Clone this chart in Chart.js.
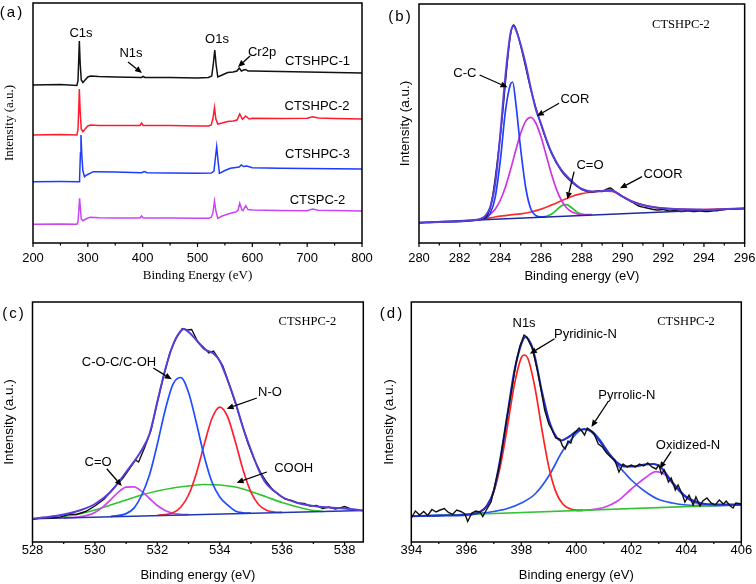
<!DOCTYPE html>
<html><head><meta charset="utf-8">
<script src="https://cdn.jsdelivr.net/npm/chart.js@4/dist/chart.umd.min.js"></script>
<style>
html,body{margin:0;padding:0;background:#fff;}
body{width:756px;height:584px;position:relative;overflow:hidden;}
canvas{position:absolute;}
</style></head><body>
<canvas id="ca" width="378" height="292" style="left:0;top:0"></canvas>
<canvas id="cb" width="378" height="292" style="left:378px;top:0"></canvas>
<canvas id="cc" width="378" height="292" style="left:0;top:292px"></canvas>
<canvas id="cd" width="378" height="292" style="left:378px;top:292px"></canvas>
<script>
// ---------------- (a) survey spectra ----------------
const aTicks = [200, 300, 400, 500, 600, 700, 800];
const aMinor = [250, 350, 450, 550, 650, 750];
const aE1 = [200, 250, 280, 282, 283.5, 284.5, 286, 288, 291, 295, 300, 305, 320, 350, 398, 401, 404, 450, 500, 520, 526, 529, 531.5, 534, 537, 545, 555, 565, 572, 576, 580, 584, 588, 592, 600, 650, 700, 750, 800];
const aI1 = [158, 158.5, 157.5, 162, 185, 202, 180, 163, 160.5, 163, 166, 167, 166.5, 166, 165.5, 166.5, 165.5, 165.5, 165, 165.5, 167, 180, 193, 178, 166, 168, 170.5, 171, 172, 175, 172, 173, 173.5, 172, 172, 171.5, 171, 170.5, 170];
const aE2 = [200, 250, 280, 282, 283.5, 284.5, 286, 288, 291, 295, 300, 305, 320, 350, 395, 398, 401, 450, 500, 520, 525, 528, 531, 533.5, 537, 545, 555, 565, 572, 577, 582, 588, 594, 600, 650, 700, 710, 720, 750, 800];
const aI2 = [108, 108.5, 108, 113, 135, 154, 132, 114, 111.3, 114, 117, 118, 117.5, 117.5, 117.5, 120, 117.5, 117.5, 117, 117, 118, 124, 135.5, 124, 119, 120, 121.5, 122, 123, 129, 123.7, 127, 124, 124.7, 124.5, 124.7, 126.3, 125, 124.5, 124];
const aE3 = [200, 250, 284, 285, 286.5, 287.5, 289, 291, 294, 298, 310, 350, 398, 403, 408, 450, 500, 525, 530, 532, 535, 537.5, 540, 550, 560, 570, 576, 580, 584, 590, 600, 650, 700, 750, 800];
const aI3 = [61.3, 61.5, 61.3, 65, 90, 108, 88, 72, 66.3, 68, 71.3, 71, 70.3, 71.5, 70.3, 70, 69.7, 70, 72, 82, 96.3, 82, 69.7, 72.5, 74.7, 75.5, 76, 78, 76.5, 77, 75.3, 74.8, 74.5, 74.2, 74];
const aE4 = [200, 250, 280, 282, 283.5, 285, 286.5, 288, 291, 295, 300, 305, 320, 350, 395, 398, 401, 450, 500, 520, 525, 528, 531, 533.5, 537, 545, 560, 570, 574, 577, 581, 583, 588, 592, 600, 650, 700, 710, 720, 750, 800];
const aI4 = [18.7, 19, 18.7, 21, 32, 44.7, 34, 24, 22.3, 23.5, 25, 25.7, 25.3, 25, 25, 27, 25, 25, 24.7, 24.7, 25.5, 30, 42, 32, 24.7, 27, 29.7, 31, 33, 39.7, 33, 32.3, 37.3, 33.5, 33, 32.5, 32.3, 34, 32.8, 32.5, 32];
const aNames = ['CTSHPC-1', 'CTSHPC-2', 'CTSHPC-3', 'CTSPC-2'];

// ---------------- (b) C1s ----------------
const bTicks = [280, 282, 284, 286, 288, 290, 292, 294, 296];
const bMinor = [281, 283, 285, 287, 289, 291, 293, 295];
const bBgE = [280, 296];
const bBgI = [20.5, 34.5];
const bEnvE = [280, 281, 282, 282.5, 283, 283.25, 283.5, 283.75, 284, 284.25, 284.5, 284.65, 284.8, 285, 285.25, 285.5, 285.75, 286, 286.25, 286.5, 286.75, 287, 287.25, 287.5, 287.75, 288, 288.5, 289, 289.4, 290, 290.5, 291, 291.5, 292, 293, 294, 295, 296];
const bEnvI = [20.3, 21, 21.8, 22.5, 24, 27, 36, 60, 110, 168, 210, 217, 211, 198, 178, 154, 133, 119, 104, 91, 81, 73, 67, 62, 57.5, 54, 51.5, 52, 53, 46.3, 41.3, 38, 36, 34.7, 33.7, 33.3, 33.8, 34.7];
const bDatE = [280, 281, 282, 283, 283.5, 284, 284.5, 284.65, 284.8, 285, 285.5, 286, 286.5, 287, 287.5, 288, 288.5, 288.8, 289, 289.2, 289.4, 289.6, 289.9, 290.2, 290.5, 290.8, 291.1, 291.4, 291.7, 292, 292.3, 292.6, 292.9, 293.2, 293.5, 293.8, 294.1, 294.4, 294.7, 295, 295.5, 296];
const bDatI = [20, 21, 21.5, 23.5, 35, 108, 209, 218, 212, 197, 153, 118, 90, 72, 61, 53.5, 51, 52, 51.5, 53.5, 55, 52, 48, 44, 40.5, 37, 35.5, 34, 33, 33.5, 32, 32.5, 31.5, 32.5, 31.5, 32, 31.5, 32, 32.5, 33.5, 34, 34.5];
const bCCE = [283, 283.25, 283.5, 283.75, 284, 284.25, 284.5, 284.6, 284.75, 285, 285.25, 285.5, 285.75, 286, 286.25];
const bCCI = [23.3, 24.4, 29.5, 46.3, 83.3, 132.6, 159, 161, 141, 93, 54.5, 33.8, 27.3, 26.1, 26.2];
const bCorE = [283, 283.25, 283.5, 283.75, 284, 284.25, 284.5, 284.75, 285, 285.25, 285.5, 285.75, 286, 286.25, 286.5, 286.75, 287, 287.25, 287.5, 287.75, 288, 288.5];
const bCorI = [24.1, 25.6, 28.7, 34.1, 43.0, 56.3, 73.4, 92.4, 110.0, 122.1, 125.6, 119.5, 105.7, 87.7, 69.4, 53.9, 42.5, 35.3, 31.2, 29.2, 28.3, 28.3];
const bCoE = [286, 286.25, 286.5, 286.75, 287, 287.25, 287.5, 287.75, 288, 288.25];
const bCoI = [26.0, 26.8, 28.8, 32.8, 37.2, 38.3, 35.2, 31.1, 28.8, 28.1];
const bCoorE = [283, 283.5, 284, 284.5, 285, 285.5, 286, 286.5, 287, 287.5, 288, 288.5, 289, 289.5, 290, 290.5, 291, 291.5, 292, 293, 294, 295, 296];
const bCoorI = [23.8, 25.2, 26.9, 28.2, 29.2, 31.0, 33.9, 37.9, 42.3, 46.5, 49.3, 51.0, 52.1, 51.6, 46.6, 41.5, 38.0, 35.9, 34.7, 33.7, 33.5, 34, 34.5];

// ---------------- (c) O1s ----------------
const cTicks = [528, 530, 532, 534, 536, 538];
const cMinor = [529, 531, 533, 535, 537];
const cBgE = [528, 538.6];
const cBgI = [23.3, 31.5];
const cEnvE = [528, 528.5, 529, 529.5, 530, 530.5, 531, 531.5, 531.75, 532, 532.25, 532.5, 532.75, 532.85, 533, 533.25, 533.5, 533.8, 534, 534.25, 534.5, 534.75, 535, 535.25, 535.5, 535.75, 536, 536.5, 537, 537.5, 538, 538.6];
const cEnvI = [23.3, 25, 27.5, 31.5, 38, 50, 70, 92, 108, 140, 172, 197, 211, 213, 210, 202, 193, 188.5, 181, 162, 140, 114, 92, 72, 58, 51, 45, 39, 36, 34.5, 33.5, 31.5];
const cDatE = [528, 528.3, 528.6, 528.9, 529.2, 529.4, 529.7, 530, 530.3, 530.6, 530.9, 531.1, 531.3, 531.4, 531.6, 531.8, 532, 532.2, 532.4, 532.6, 532.8, 532.95, 533.1, 533.3, 533.5, 533.65, 533.8, 533.95, 534.1, 534.3, 534.5, 534.7, 534.9, 535.1, 535.3, 535.5, 535.7, 535.9, 536.1, 536.3, 536.5, 536.7, 536.9, 537.1, 537.3, 537.5, 537.7, 537.9, 538, 538.2];
const cDatI = [22.5, 24.5, 24, 25, 28, 27.5, 30.5, 36, 43, 54, 64, 73, 82, 80, 95, 112, 140, 166, 189, 204, 213.5, 212, 212.5, 200, 194, 189, 191, 184, 176, 158, 139, 119, 99, 83, 70, 60, 52, 47, 43, 41.5, 39, 38.5, 36, 36.5, 33.5, 35, 33, 34.5, 35.5, 33];
const cCocE = [530.5, 531, 531.25, 531.5, 531.75, 532, 532.25, 532.5, 532.75, 533, 533.25, 533.5, 533.75, 534, 534.25, 534.5, 534.75, 535];
const cCocI = [25.4, 28.4, 33.9, 47, 67.2, 97.8, 131.7, 157.6, 164.5, 149.5, 119.3, 86.0, 60, 45, 37, 31, 29.2, 28.8];
const cNoE = [532, 532.5, 532.75, 533, 533.25, 533.5, 533.75, 534, 534.25, 534.5, 534.75, 535, 535.25, 535.5, 535.75, 536];
const cNoI = [26.5, 29.3, 34.8, 47.0, 68.6, 97.2, 123.5, 134.9, 125.4, 100.2, 71.8, 49.9, 37.3, 31.8, 30.0, 29.6];
const cCoE = [529, 529.5, 529.75, 530, 530.25, 530.5, 530.75, 531, 531.25, 531.5, 531.75, 532, 532.25, 532.5, 532.75, 533];
const cCoI = [24.1, 25.2, 26.6, 29.6, 34.9, 42.2, 49.8, 54.9, 55.2, 50.6, 43.5, 36.5, 31.6, 28.8, 27.7, 27.4];
const cCoohE = [529, 529.5, 530, 530.5, 531, 531.5, 532, 532.5, 533, 533.5, 534, 534.5, 535, 535.5, 536, 536.5, 537, 537.3];
const cCoohI = [25.5, 28, 32, 37, 42, 47, 51, 54, 56, 57.5, 57, 55, 50.5, 45, 39.5, 35, 31.5, 30.5];

// ---------------- (d) N1s ----------------
const dTicks = [394, 396, 398, 400, 402, 404, 406];
const dMinor = [395, 397, 399, 401, 403, 405];
const dBgE = [394, 406];
const dBgI = [25.5, 37.3];
const dEnvE = [394, 395, 396, 396.5, 396.75, 397, 397.25, 397.5, 397.75, 398, 398.15, 398.35, 398.5, 398.75, 399, 399.25, 399.45, 399.75, 400, 400.3, 400.6, 400.9, 401.2, 401.5, 401.8, 402.1, 402.5, 402.8, 403.1, 403.5, 404, 404.5, 405, 405.5, 406];
const dEnvI = [25.8, 26.4, 27.2, 30, 36, 51, 85, 128, 171, 198, 205, 198, 184, 150, 122, 106, 101.5, 105.5, 110.5, 113, 110, 100, 88, 79, 75.5, 75.5, 77.5, 78, 74, 59, 45, 39, 37.5, 37.3, 37.3];
const dDatE = [394.0, 394.15, 394.3, 394.45, 394.6, 394.75, 394.9, 395.05, 395.2, 395.35, 395.5, 395.65, 395.8, 395.95, 396.05, 396.2, 396.35, 396.5, 396.6, 396.75, 396.9, 397.05, 397.2, 397.35, 397.5, 397.65, 397.8, 397.95, 398.1, 398.2, 398.3, 398.4, 398.5, 398.6, 398.7, 398.85, 399.0, 399.1, 399.25, 399.4, 399.5, 399.6, 399.7, 399.8, 399.9, 400.0, 400.1, 400.2, 400.3, 400.4, 400.5, 400.65, 400.8, 400.95, 401.1, 401.25, 401.4, 401.55, 401.7, 401.85, 402.0, 402.15, 402.3, 402.45, 402.6, 402.75, 402.9, 403.0, 403.1, 403.2, 403.35, 403.45, 403.6, 403.7, 403.85, 403.95, 404.1, 404.25, 404.35, 404.5, 404.6, 404.75, 404.9, 405.05, 405.2, 405.35, 405.45, 405.6, 405.7, 405.8, 405.9, 406.0];
const dDatI = [24, 31, 27, 30.5, 26.5, 32.5, 30, 32, 33.5, 29.5, 27.5, 32, 30.5, 28, 20.5, 29, 31, 30, 25.5, 33, 40, 58, 76, 102, 128, 152, 178, 196, 207, 205, 199, 194, 182, 170, 155, 132, 118, 113, 104, 103, 96, 93, 101, 99, 108, 111, 114, 111, 107, 114, 112, 108, 98, 95, 89, 85, 82, 70, 78, 75, 77, 75, 78, 76, 79, 75, 73, 77, 68, 72, 60, 64, 52, 57, 48, 40, 47, 37, 45, 36, 41, 44, 39, 37, 42, 38, 41, 36, 34, 39, 38.5, 38];
const dPyE = [396.25, 396.5, 396.75, 397, 397.25, 397.5, 397.75, 398, 398.1, 398.25, 398.5, 398.75, 399, 399.25, 399.5, 399.75, 400, 400.25];
const dPyI = [28.0, 30.5, 36.5, 50.5, 77.3, 116.2, 157.7, 184.4, 187, 182.8, 153.9, 112.4, 75.1, 50.6, 38.2, 33.4, 31.9, 31.7];
const dPrE = [394, 395, 396, 396.5, 397, 397.5, 398, 398.5, 399, 399.5, 399.75, 400, 400.25, 400.5, 400.75, 401, 401.25, 401.5, 401.75, 402, 402.5, 403, 403.5, 404, 404.5, 405, 406];
const dPrI = [25.8, 26.6, 27.6, 28.6, 30.5, 33.5, 39, 48, 66, 91, 100, 108.5, 112.5, 111, 104, 95, 86, 77, 69.5, 62, 50.5, 42.5, 39, 37, 36.3, 36.4, 37.3];
const dOxE = [400, 400.5, 401, 401.5, 402, 402.5, 402.9, 403.25, 403.5, 403.75, 404, 404.25, 404.5, 405, 405.5];
const dOxI = [31.4, 32.2, 34.5, 41, 53, 64, 70.3, 67, 60, 51, 44.5, 40, 37.8, 36.6, 36.9];

// ---------------- annotations (data coordinates) ----------------
const SANS = '"Liberation Sans", Arial, sans-serif';
const SERIF = '"Liberation Serif", "Times New Roman", serif';
const ANNO = {
  ca: { panel: '(a)', px: 12, py: 13,
    texts: [['C1s', 287.5, 210], ['N1s', 378.7, 190], ['O1s', 535.6, 204], ['Cr2p', 617.7, 191],
            [aNames[0], 718.9, 182], [aNames[1], 718, 137], [aNames[2], 718.9, 89], [aNames[3], 718.9, 43]],
    serifTexts: [],
    arrows: [[373.3, 181, 398.8, 170], [595.8, 187, 573.9, 176]],
    major: aTicks, minor: aMinor, majLen: 4, minLen: 2.5 },
  cb: { panel: '(b)', px: 22.5, py: 16.7,
    texts: [['C-C', 282.25, 170], ['COR', 287.66, 144], ['C=O', 288.4, 77.3], ['COOR', 291.99, 69]],
    serifTexts: [['CTSHPC-2', 292.87, 218]],
    arrows: [[282.98, 168, 284.35, 155.7], [286.88, 139.7, 285.79, 127], [287.62, 71.3, 287.29, 43.7], [290.96, 66.3, 289.87, 54.7]],
    major: bTicks, minor: bMinor, majLen: 4, minLen: 2.5 },
  cc: { panel: '(c)', px: 14, py: 21.7,
    texts: [['C-O-C/C-OH', 530.77, 180], ['N-O', 535.61, 150], ['C=O', 530.1, 80], ['COOH', 536.37, 74]],
    serifTexts: [['CTSHPC-2', 536.81, 220]],
    arrows: [[531.87, 174, 532.46, 162.7], [535.19, 144, 534.22, 133.3], [530.38, 73.3, 530.86, 56], [535.51, 70, 534.54, 59.3]],
    major: cTicks, minor: cMinor, majLen: 3, minLen: 2 },
  cd: { panel: '(d)', px: 14, py: 21.7,
    texts: [['N1s', 398.1, 218.3], ['Pyridinic-N', 400.33, 207.3], ['Pyrrolic-N', 401.84, 146.7], ['Oxidized-N', 404.06, 96.7]],
    serifTexts: [['CTSHPC-2', 403.99, 220]],
    arrows: [[399.21, 203.3, 398.31, 188.3], [401.15, 140, 400.55, 115], [403.45, 90.7, 403.03, 73.3]],
    major: dTicks, minor: dMinor, majLen: 3, minLen: 2 }
};

function drawArrow(ctx, x1, y1, x2, y2) {
  const ang = Math.atan2(y2 - y1, x2 - x1);
  const hl = 7, hw = 3;
  const bx = x2 - hl * Math.cos(ang), by = y2 - hl * Math.sin(ang);
  ctx.beginPath(); ctx.moveTo(x1, y1); ctx.lineTo(bx, by); ctx.stroke();
  ctx.beginPath();
  ctx.moveTo(x2, y2);
  ctx.lineTo(bx + hw * Math.sin(ang), by - hw * Math.cos(ang));
  ctx.lineTo(bx - hw * Math.sin(ang), by + hw * Math.cos(ang));
  ctx.closePath(); ctx.fill();
}

const framePlugin = {
  id: 'frame',
  afterDraw(chart) {
    const A = ANNO[chart.canvas.id];
    const { ctx, chartArea: ca } = chart;
    const xs = chart.scales.x, ys = chart.scales.y;
    ctx.save();
    ctx.strokeStyle = '#000'; ctx.fillStyle = '#000'; ctx.lineWidth = 1.5;
    ctx.strokeRect(ca.left, ca.top, ca.right - ca.left, ca.bottom - ca.top);
    ctx.lineWidth = 1.2;
    ctx.beginPath();
    A.major.forEach(v => { const p = xs.getPixelForValue(v); ctx.moveTo(p, ca.bottom); ctx.lineTo(p, ca.bottom + A.majLen); });
    A.minor.forEach(v => { const p = xs.getPixelForValue(v); ctx.moveTo(p, ca.bottom); ctx.lineTo(p, ca.bottom + A.minLen); });
    ctx.stroke();
    ctx.textAlign = 'center'; ctx.textBaseline = 'middle';
    ctx.font = '13px ' + SANS;
    A.texts.forEach(t => ctx.fillText(t[0], xs.getPixelForValue(t[1]), ys.getPixelForValue(t[2])));
    ctx.font = '12.5px ' + SERIF;
    A.serifTexts.forEach(t => ctx.fillText(t[0], xs.getPixelForValue(t[1]), ys.getPixelForValue(t[2])));
    ctx.lineWidth = 1.3;
    A.arrows.forEach(a => drawArrow(ctx, xs.getPixelForValue(a[0]), ys.getPixelForValue(a[1]), xs.getPixelForValue(a[2]), ys.getPixelForValue(a[3])));
    ctx.font = '15px ' + SANS;
    if ('letterSpacing' in ctx) ctx.letterSpacing = '2px';
    ctx.fillText(A.panel, A.px, A.py);
    ctx.restore();
  }
};

function series(E, I) { return E.map((v, i) => ({ x: v, y: I[i] })); }
function line(E, I, color, width, order, smooth) {
  return { data: series(E, I), borderColor: color, backgroundColor: color, borderWidth: width,
    pointRadius: 0, fill: false, order: order, tension: 0,
    cubicInterpolationMode: smooth ? 'monotone' : 'default' };
}

Chart.defaults.font.family = SANS;
Chart.defaults.color = '#000';

function makeChart(id, c) {
  return new Chart(document.getElementById(id), {
    type: 'line',
    data: { datasets: c.datasets },
    options: {
      responsive: false, animation: false, devicePixelRatio: 1,
      layout: { padding: { top: c.top, right: c.right, left: 0, bottom: 0 } },
      plugins: { legend: { display: false }, tooltip: { enabled: false } },
      scales: {
        x: {
          type: 'linear', min: c.min, max: c.max,
          afterBuildTicks: s => { s.ticks = c.ticks.map(v => ({ value: v })); },
          afterFit: s => { s.height = c.xh; },
          grid: { display: false }, border: { display: false },
          ticks: { autoSkip: false, maxRotation: 0, padding: c.tpad, color: '#000',
                   font: { family: SANS, size: 13, lineHeight: 1 } },
          title: { display: true, text: c.xtitle, color: '#000',
                   font: { family: c.xfont, size: 13, lineHeight: 1.2 }, padding: { top: 0, bottom: c.xtpad } }
        },
        y: {
          type: 'linear', min: 0, max: c.ymax,
          afterFit: s => { s.width = c.yw; },
          grid: { display: false }, border: { display: false },
          ticks: { display: false },
          title: { display: true, text: 'Intensity (a.u.)', color: '#000',
                   font: { family: c.yfont, size: c.ysize, lineHeight: 1.2 }, padding: { top: c.ytpad, bottom: 0 } }
        }
      }
    },
    plugins: [framePlugin]
  });
}

makeChart('ca', {
  min: 200, max: 800, ticks: aTicks, top: 3, right: 16, xh: 49, yw: 33, ymax: 240,
  tpad: 0.5, xtitle: 'Binding Energy (eV)', xfont: SERIF, xtpad: 8.2,
  yfont: SERIF, ysize: 13, ytpad: 2.2,
  datasets: [
    line(aE1, aI1, '#111111', 1.5, 0, false),
    line(aE2, aI2, '#ff1a2e', 1.5, 1, false),
    line(aE3, aI3, '#1d3bff', 1.5, 2, false),
    line(aE4, aI4, '#cc44f2', 1.5, 3, false)
  ]
});

makeChart('cb', {
  min: 280, max: 296, ticks: bTicks, top: 4, right: 10, xh: 49, yw: 41, ymax: 239,
  tpad: 0.5, xtitle: 'Binding energy (eV)', xfont: SANS, xtpad: 8.2,
  yfont: SANS, ysize: 13.5, ytpad: 18.9,
  datasets: [
    line(bEnvE, bEnvI, '#5a3de0', 2, 0, true),
    line(bBgE, bBgI, '#1e2a9e', 1.6, 1, false),
    line(bDatE, bDatI, '#111111', 1.4, 2, true),
    line(bCCE, bCCI, '#2040ff', 1.7, 3, true),
    line(bCorE, bCorI, '#d035e0', 1.7, 4, true),
    line(bCoE, bCoI, '#25c725', 1.7, 5, true),
    line(bCoorE, bCoorI, '#ff2a2a', 1.7, 6, true)
  ]
});

makeChart('cc', {
  min: 528, max: 538.6, ticks: cTicks, top: 10, right: 14.7, xh: 42, yw: 32.5, ymax: 240,
  tpad: -6.3, xtitle: 'Binding energy (eV)', xfont: SANS, xtpad: 0.9,
  yfont: SANS, ysize: 13.5, ytpad: 0.9,
  datasets: [
    line(cEnvE, cEnvI, '#5a3cd8', 2, 0, true),
    line(cDatE, cDatI, '#111111', 1.4, 1, false),
    line(cBgE, cBgI, '#2236b0', 1.6, 2, false),
    line(cCocE, cCocI, '#1f4dff', 1.7, 3, true),
    line(cNoE, cNoI, '#ff1f2f', 1.7, 4, true),
    line(cCoE, cCoI, '#cf45ef', 1.7, 5, true),
    line(cCoohE, cCoohI, '#2ec42e', 1.7, 6, true)
  ]
});

makeChart('cd', {
  min: 394, max: 406, ticks: dTicks, top: 10, right: 14.7, xh: 42, yw: 33.3, ymax: 240,
  tpad: -6.3, xtitle: 'Binding energy (eV)', xfont: SANS, xtpad: 0.9,
  yfont: SANS, ysize: 13.5, ytpad: 3.6,
  datasets: [
    line(dDatE, dDatI, '#111111', 1.4, 0, false),
    line(dEnvE, dEnvI, '#1f2fd0', 2.2, 1, true),
    line(dBgE, dBgI, '#33c433', 1.7, 2, false),
    line(dPyE, dPyI, '#ff2020', 1.7, 3, true),
    line(dPrE, dPrI, '#2a55f0', 1.7, 4, true),
    line(dOxE, dOxI, '#d040f0', 1.7, 5, true)
  ]
});
</script>
</body></html>
